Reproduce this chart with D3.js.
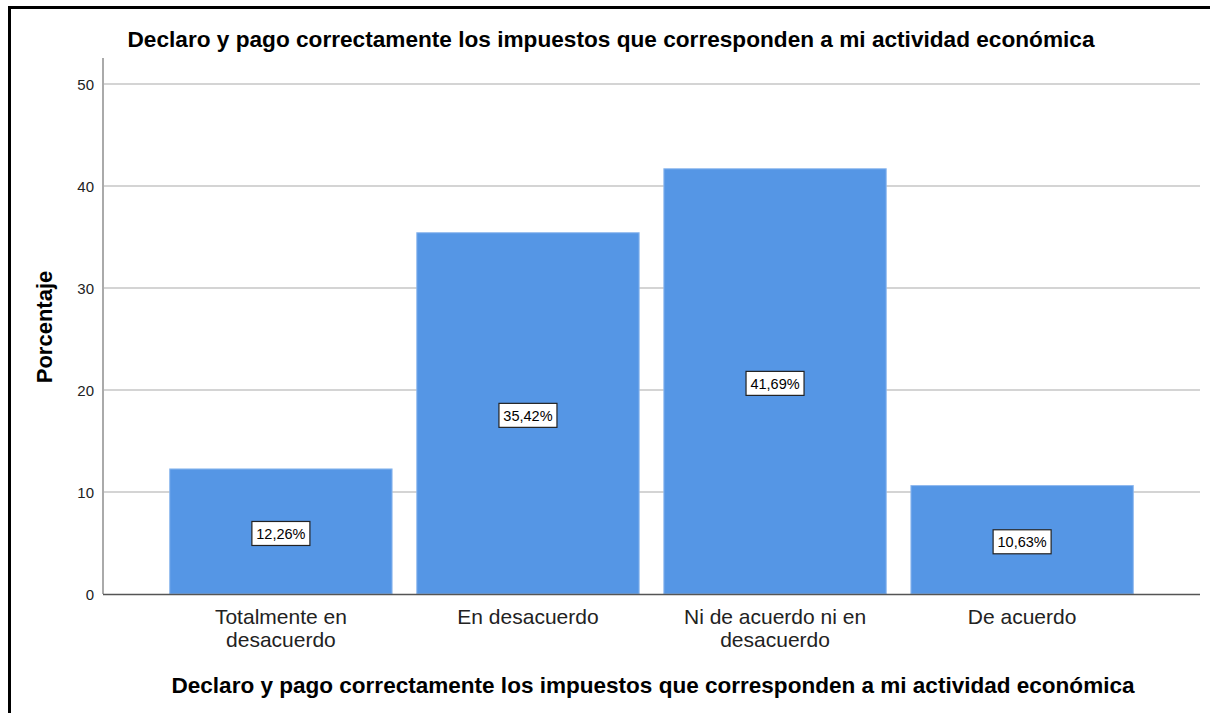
<!DOCTYPE html>
<html>
<head>
<meta charset="utf-8">
<script src="https://cdn.jsdelivr.net/npm/d3@7"></script>
<style>
  body { margin: 0; background: #fff; }
  text { font-family: "Liberation Sans", Arial, sans-serif; }
</style>
</head>
<body>
<div id="chart"></div>
<script>
// datos
var categorias = ["Totalmente en|desacuerdo", "En desacuerdo", "Ni de acuerdo ni en|desacuerdo", "De acuerdo"];
var porcentajes = [12.26, 35.42, 41.69, 10.63];
var ticksY = [0, 10, 20, 30, 40, 50];
var titulo = "Declaro y pago correctamente los impuestos que corresponden a mi actividad económica";

var width = 1210, height = 713;
var margin = { top: 84, right: 10, bottom: 119, left: 103 };
var plotRight = 1200;

var svg = d3.select("#chart")
  .append("svg")
  .attr("width", width)
  .attr("height", height);

// marco
svg.append("rect")
  .attr("x", 9.5).attr("y", 7.5)
  .attr("width", 1220).attr("height", 720)
  .attr("fill", "none")
  .attr("stroke", "#000")
  .attr("stroke-width", 3);

var x = d3.scaleBand()
  .domain(categorias)
  .range([margin.left, plotRight])
  .paddingInner(0.1)
  .paddingOuter(0.27);

var y = d3.scaleLinear()
  .domain([0, 50])
  .range([594, 84]);

// grid
svg.append("g")
  .selectAll("line")
  .data(ticksY.slice(1))
  .join("line")
  .attr("x1", margin.left).attr("x2", plotRight)
  .attr("y1", function (d) { return y(d); })
  .attr("y2", function (d) { return y(d); })
  .attr("stroke", "#d4d4d4")
  .attr("stroke-width", 2);

// barras
svg.append("g")
  .selectAll("rect")
  .data(porcentajes)
  .join("rect")
  .attr("x", function (d, i) { return x(categorias[i]); })
  .attr("y", function (d) { return y(d); })
  .attr("width", x.bandwidth())
  .attr("height", function (d) { return y(0) - y(d); })
  .attr("fill", "#5596e5")
  .attr("stroke", "#8fb9ee")
  .attr("stroke-width", 1);

// eje Y
var yAxis = svg.append("g")
  .attr("transform", "translate(" + margin.left + ",0)")
  .call(d3.axisLeft(y).tickValues(ticksY).tickSize(0).tickPadding(9));
yAxis.select(".domain").remove();
yAxis.selectAll("text")
  .style("font-size", "15px")
  .attr("fill", "#222")
  .attr("dy", "0.35em");
svg.append("line")
  .attr("x1", margin.left).attr("x2", margin.left)
  .attr("y1", 58).attr("y2", 594)
  .attr("stroke", "#aaa")
  .attr("stroke-width", 2);

// eje X
svg.append("line")
  .attr("x1", margin.left).attr("x2", plotRight)
  .attr("y1", 594.5).attr("y2", 594.5)
  .attr("stroke", "#555")
  .attr("stroke-width", 1.5);

var xAxis = svg.append("g")
  .attr("transform", "translate(0,594)")
  .call(d3.axisBottom(x).tickSize(0).tickFormat(""));
xAxis.select(".domain").remove();
xAxis.selectAll(".tick").each(function (d) {
  var lines = d.split("|");
  var t = d3.select(this).append("text")
    .attr("fill", "#222")
    .attr("text-anchor", "middle")
    .style("font-size", "21px");
  lines.forEach(function (l, i) {
    t.append("tspan").attr("x", 0).attr("y", 30 + i * 23).text(l);
  });
});

// etiquetas
var etiquetas = svg.append("g")
  .selectAll("g")
  .data(porcentajes)
  .join("g")
  .attr("transform", function (d, i) {
    return "translate(" + (x(categorias[i]) + x.bandwidth() / 2) + "," + (y(d / 2) + 2) + ")";
  });
etiquetas.append("rect")
  .attr("x", -29).attr("y", -12)
  .attr("width", 58).attr("height", 24)
  .attr("fill", "#fff")
  .attr("stroke", "#222")
  .attr("stroke-width", 1.2);
etiquetas.append("text")
  .attr("text-anchor", "middle")
  .attr("dy", "0.36em")
  .style("font-size", "14.5px")
  .attr("fill", "#000")
  .text(function (d) { return d.toFixed(2).replace(".", ",") + "%"; });

// títulos
svg.append("text")
  .attr("x", 611).attr("y", 47)
  .attr("text-anchor", "middle")
  .attr("textLength", 967)
  .attr("lengthAdjust", "spacingAndGlyphs")
  .style("font-size", "22px")
  .style("font-weight", "bold")
  .text(titulo);

svg.append("text")
  .attr("x", 653).attr("y", 693)
  .attr("text-anchor", "middle")
  .attr("textLength", 963)
  .attr("lengthAdjust", "spacingAndGlyphs")
  .style("font-size", "22px")
  .style("font-weight", "bold")
  .text(titulo);

svg.append("text")
  .attr("transform", "translate(52,327) rotate(-90)")
  .attr("text-anchor", "middle")
  .style("font-size", "22px")
  .style("font-weight", "bold")
  .text("Porcentaje");
</script>
</body>
</html>
